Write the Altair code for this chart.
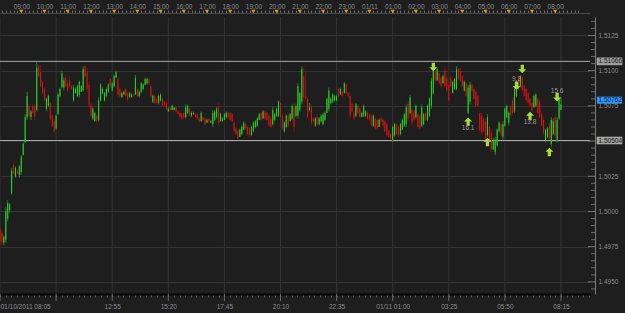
import json
import altair as alt
import pandas as pd

# ---------------- data (5-minute bars from 01/10/2011 08:05, prices in pips above 1.5000) -------------
open_pips = [
    -12, -15, -22, -20, -5, 1, 13, 33, 25, 29,
    26, 28, 40, 49, 67, 75, 67, 75, 74, 72,
    103, 99, 92, 87, 73, 75, 77, 68, 64, 59,
    69, 82, 88, 88, 95, 91, 93, 89, 79, 84,
    82, 83, 85, 86, 103, 99, 90, 76, 66, 64,
    68, 65, 79, 84, 79, 82, 85, 94, 86, 89,
    95, 94, 87, 81, 83, 87, 84, 81, 81, 83,
    83, 87, 82, 85, 87, 90, 91, 94, 89, 78,
    82, 80, 77, 79, 80, 78, 77, 71, 74, 72,
    72, 74, 71, 70, 69, 70, 67, 70, 73, 68,
    69, 69, 69, 66, 64, 67, 66, 63, 66, 63,
    62, 65, 67, 74, 64, 64, 65, 67, 70, 70,
    69, 63, 59, 57, 53, 55, 58, 62, 60, 59,
    54, 57, 60, 61, 65, 70, 66, 71, 70, 68,
    66, 62, 65, 68, 68, 77, 68, 57, 60, 68,
    64, 66, 74, 68, 68, 72, 78, 96, 82, 80,
    72, 74, 66, 61, 67, 62, 64, 62, 65, 70,
    73, 77, 78, 79, 79, 87, 83, 85, 84, 90,
    84, 82, 76, 70, 68, 75, 73, 67, 68, 68,
    70, 69, 68, 61, 66, 65, 60, 66, 65, 64,
    62, 57, 55, 51, 54, 62, 60, 55, 58, 61,
    62, 76, 70, 72, 71, 67, 69, 68, 61, 62,
    70, 65, 68, 75, 84, 99, 93, 98, 95, 91,
    100, 95, 90, 95, 84, 87, 87, 101, 100, 96,
    86, 91, 70, 78, 90, 87, 85, 82, 70, 68,
    66, 64, 54, 60, 56, 44, 42, 47, 57, 62,
    53, 61, 67, 63, 75, 79, 71, 82, 95, 89,
    95, 89, 87, 84, 80, 77, 74, 75, 80, 78,
    69, 65, 50, 53, 61, 48, 55, 67, 51, 66,
    72,
]
high_pips = [
    -10, -13, -17, 3, 8, 6, 31, 35, 32, 30,
    33, 40, 49, 69, 85, 76, 72, 76, 76, 106,
    104, 104, 93, 88, 81, 83, 78, 69, 66, 69,
    84, 88, 100, 95, 97, 93, 96, 90, 90, 88,
    90, 93, 90, 103, 104, 102, 92, 77, 74, 71,
    69, 81, 91, 88, 85, 88, 91, 95, 92, 97,
    100, 95, 88, 85, 86, 88, 85, 85, 84, 83,
    97, 88, 86, 92, 91, 95, 95, 95, 90, 83,
    83, 81, 83, 84, 81, 79, 78, 74, 74, 76,
    74, 74, 72, 71, 70, 71, 76, 76, 74, 71,
    71, 70, 70, 67, 71, 67, 66, 66, 66, 65,
    72, 72, 74, 77, 70, 67, 70, 71, 71, 71,
    70, 64, 60, 58, 59, 61, 64, 63, 61, 60,
    61, 64, 65, 67, 70, 71, 72, 72, 71, 69,
    67, 74, 70, 74, 79, 78, 70, 64, 69, 69,
    70, 76, 77, 76, 91, 85, 103, 102, 100, 81,
    77, 76, 67, 67, 69, 67, 69, 70, 71, 81,
    88, 81, 84, 83, 83, 88, 88, 86, 92, 91,
    85, 84, 77, 71, 77, 76, 74, 71, 76, 72,
    71, 70, 69, 69, 67, 66, 66, 67, 66, 65,
    63, 58, 56, 61, 63, 63, 61, 63, 66, 70,
    76, 78, 83, 73, 72, 76, 70, 69, 76, 70,
    71, 76, 81, 95, 102, 100, 102, 99, 96, 97,
    103, 97, 92, 97, 93, 95, 103, 102, 102, 97,
    93, 92, 90, 92, 91, 88, 86, 83, 71, 70,
    67, 66, 69, 61, 58, 52, 53, 59, 64, 63,
    64, 74, 76, 71, 76, 81, 88, 93, 96, 97,
    96, 90, 88, 85, 81, 78, 83, 84, 81, 79,
    71, 67, 59, 60, 63, 67, 66, 69, 67, 81,
    81,
]
low_pips = [
    -24, -24, -24, -22, -7, -1, 12, 26, 24, 26,
    24, 26, 40, 49, 65, 66, 65, 69, 65, 71,
    95, 88, 83, 78, 71, 74, 65, 60, 56, 58,
    69, 81, 88, 86, 88, 85, 88, 86, 78, 84,
    81, 81, 85, 85, 95, 85, 74, 67, 65, 64,
    63, 64, 78, 83, 78, 81, 84, 88, 85, 88,
    95, 81, 81, 81, 83, 81, 78, 81, 81, 81,
    83, 81, 81, 84, 86, 90, 90, 90, 81, 77,
    76, 76, 76, 78, 74, 74, 72, 71, 71, 72,
    72, 70, 69, 66, 65, 66, 66, 69, 67, 67,
    69, 66, 65, 63, 64, 64, 61, 63, 63, 63,
    60, 64, 66, 61, 64, 64, 65, 66, 66, 64,
    63, 56, 54, 51, 53, 54, 58, 58, 54, 53,
    54, 56, 59, 60, 65, 64, 66, 65, 64, 60,
    59, 61, 64, 67, 67, 66, 58, 56, 59, 60,
    64, 65, 56, 67, 66, 71, 76, 79, 78, 66,
    71, 61, 63, 60, 61, 61, 63, 61, 64, 70,
    71, 76, 77, 78, 78, 81, 83, 81, 84, 83,
    81, 66, 70, 65, 67, 69, 66, 67, 67, 67,
    65, 64, 60, 60, 58, 58, 60, 63, 60, 56,
    53, 52, 51, 49, 53, 54, 53, 54, 58, 60,
    60, 64, 69, 61, 64, 66, 59, 58, 60, 61,
    64, 64, 67, 73, 83, 92, 93, 90, 88, 91,
    88, 85, 77, 88, 84, 86, 86, 93, 92, 88,
    85, 81, 69, 76, 85, 79, 74, 74, 56, 54,
    56, 51, 53, 49, 42, 44, 40, 46, 56, 53,
    51, 60, 66, 61, 67, 69, 70, 81, 86, 88,
    85, 81, 78, 76, 74, 71, 74, 74, 69, 66,
    60, 54, 49, 52, 51, 46, 54, 52, 49, 65,
    72,
]
close_pips = [
    -21, -22, -18, 0, 6, 5, 29, 27, 31, 27,
    32, 39, 48, 67, 82, 68, 71, 70, 67, 102,
    96, 89, 84, 79, 80, 82, 66, 61, 57, 68,
    83, 87, 98, 93, 89, 86, 89, 87, 88, 87,
    89, 92, 89, 101, 96, 87, 76, 68, 73, 70,
    64, 79, 90, 87, 84, 87, 90, 89, 91, 96,
    99, 83, 82, 84, 85, 82, 79, 84, 83, 82,
    95, 82, 85, 91, 90, 94, 94, 91, 82, 82,
    77, 77, 82, 83, 75, 75, 73, 73, 72, 75,
    74, 71, 69, 67, 66, 67, 74, 75, 68, 70,
    70, 67, 66, 64, 70, 65, 62, 65, 64, 64,
    70, 71, 73, 63, 69, 66, 69, 70, 67, 65,
    64, 57, 55, 52, 58, 60, 63, 59, 55, 54,
    60, 63, 64, 66, 69, 65, 71, 66, 65, 61,
    60, 72, 69, 73, 78, 67, 59, 63, 68, 61,
    69, 75, 60, 75, 89, 84, 101, 81, 80, 67,
    74, 63, 64, 66, 62, 66, 68, 69, 70, 80,
    86, 80, 83, 82, 82, 82, 87, 82, 91, 84,
    82, 68, 71, 66, 76, 70, 67, 70, 75, 71,
    66, 65, 61, 68, 59, 59, 65, 64, 61, 57,
    54, 53, 52, 60, 62, 55, 54, 62, 65, 69,
    74, 66, 81, 63, 65, 75, 60, 59, 74, 69,
    65, 75, 80, 93, 100, 93, 101, 91, 89, 96,
    89, 86, 79, 89, 92, 94, 101, 94, 93, 89,
    92, 82, 88, 90, 86, 80, 75, 75, 58, 56,
    57, 52, 67, 50, 44, 51, 51, 58, 63, 54,
    62, 73, 75, 70, 68, 70, 87, 92, 87, 96,
    86, 82, 79, 77, 75, 72, 82, 83, 70, 67,
    61, 56, 58, 59, 52, 65, 64, 54, 65, 80,
    76,
]

level_prices = [1.51066, 1.50504]
last_price = 1.50762

# signal arrows: minute offset from 08:05, pips above 1.5000, direction, label
signal_minutes = [1120, 1210, 1260, 1335, 1350, 1370, 1440, 1420]
signal_pips = [102.6, 63.8, 49.4, 89.3, 101.2, 67.8, 81.1, 42.2]
signal_dir = ["down", "up", "up", "down", "down", "up", "down", "up"]
signal_label = ["", "16.1", "", "9.3", "", "13.8", "15.6", ""]

hour_minutes = [55 + 60 * k for k in range(24)]
hour_labels = ["09:00", "10:00", "11:00", "12:00", "13:00", "14:00", "15:00", "16:00",
               "17:00", "18:00", "19:00", "20:00", "21:00", "22:00", "23:00", "01/11",
               "01:00", "02:00", "03:00", "04:00", "05:00", "06:00", "07:00", "08:00"]

bottom_label_minutes = [0, 290, 435, 580, 725, 870, 1015, 1160, 1305, 1450]
bottom_labels = ["01/10/2011 08:05", "12:55", "15:20", "17:45", "20:10", "22:35",
                 "01/11 01:00", "03:25", "05:50", "08:15"]
grid_minutes = [145 * k for k in range(11)]

price_ticks = [1.4950, 1.4975, 1.5000, 1.5025, 1.5050, 1.5075, 1.5100, 1.5125]
price_labels = ["1.4950", "1.4975", "1.5000", "1.5025", "", "1.5075", "1.5100", "1.5125"]
tick_prices = [round(1.4945 + 0.0005 * k, 4) for k in range(39)]

# ---------------- tables ----------------
BASE = 1.5
n = len(close_pips)
bars = pd.DataFrame({
    "minute": [5 * i for i in range(n)],
    "open": [round(BASE + p / 10000, 5) for p in open_pips],
    "high": [round(BASE + p / 10000, 5) for p in high_pips],
    "low": [round(BASE + p / 10000, 5) for p in low_pips],
    "close": [round(BASE + p / 10000, 5) for p in close_pips],
})
signals = pd.DataFrame({
    "minute": signal_minutes,
    "price": [round(BASE + p / 10000, 5) for p in signal_pips],
    "dir": signal_dir,
    "label": signal_label,
})
levels = pd.DataFrame({"price": level_prices, "text": [f"{p:.5f}" for p in level_prices]})
last = pd.DataFrame({"price": [last_price], "text": [f"{last_price:.5f}"]})
grid = pd.DataFrame({"minute": grid_minutes})
hours = pd.DataFrame({"minute": hour_minutes})
ticks = pd.DataFrame({"price": tick_prices,
                      "major": [round(p * 10000) % 25 == 0 for p in tick_prices]})

# ---------------- style ----------------
FONT = "Liberation Sans"
TXT = "#8c8c8c"
BG = "#1e1e1e"
GRID = "#333333"
W, H = 590, 277

x_scale = alt.Scale(domain=[0, 1525], nice=False, zero=False)
y_scale = alt.Scale(domain=[1.49414, 1.51381], nice=False, zero=False)

BM = json.dumps(bottom_label_minutes)
BL = json.dumps(bottom_labels)
HM = json.dumps(hour_minutes)
HL = json.dumps(hour_labels)
PT = json.dumps([round(p * 10000) for p in price_ticks])
PL = json.dumps(price_labels)

bottom_axis = alt.Axis(
    orient="bottom", values=[k * 14.5 for k in range(106)],
    labelExpr=f"indexof({BM}, datum.value) >= 0 ? {BL}[indexof({BM}, datum.value)] : ''",
    labelFlush=True, labelOverlap=False, labelColor=TXT, labelFont=FONT, labelFontSize=6.5,
    labelPadding=6, tickSize=3, tickColor="#5e5e5e", domainColor="#050505", domainWidth=2,
    grid=False, title=None)

top_axis = alt.Axis(
    orient="top", values=[5 + 10 * k for k in range(150)],
    labelExpr=f"indexof({HM}, datum.value) >= 0 ? {HL}[indexof({HM}, datum.value)] : ''",
    labelOverlap=False, labelColor=TXT, labelFont=FONT, labelFontSize=6.5, labelPadding=1,
    tickSize=3, tickColor="#6a6a6a", domainColor="#474747", offset=4, grid=False, title=None)

right_axis = alt.Axis(
    orient="right", values=price_ticks,
    labelExpr=f"{PL}[indexof({PT}, round(datum.value * 10000))]",
    offset=5, ticks=False,
    domainColor="#7a7a7a", labelPadding=3, labelColor=TXT, labelFont=FONT,
    labelFontSize=6.5, labelOverlap=False, grid=True, gridColor=GRID, title=None)

up_cond = "datum.close >= datum.open"

vgrid = alt.Chart(grid).mark_rule(color=GRID, strokeWidth=1).encode(
    x=alt.X("minute:Q", scale=x_scale, axis=None))

major_xticks = alt.Chart(grid).mark_rule(color="#6a6a6a", strokeWidth=1).encode(
    x=alt.X("minute:Q", scale=x_scale, axis=None), y=alt.value(H), y2=alt.value(H + 7))

level_lines = alt.Chart(levels).mark_rule(color="#a8a8a8", strokeWidth=1).encode(
    y=alt.Y("price:Q", scale=y_scale, axis=None))

wicks = alt.Chart(bars).mark_rule(strokeWidth=1).encode(
    x=alt.X("minute:Q", scale=x_scale, axis=bottom_axis),
    y=alt.Y("low:Q", scale=y_scale, axis=right_axis),
    y2="high:Q",
    color=alt.condition(up_cond, alt.value("#1f8a1f"), alt.value("#861010")),
)
bodies = alt.Chart(bars).mark_rule(strokeWidth=1).encode(
    x=alt.X("minute:Q", scale=x_scale, axis=None),
    y=alt.Y("open:Q", scale=y_scale, axis=None),
    y2="close:Q",
    color=alt.condition(up_cond, alt.value("#2fd22f"), alt.value("#d81818")),
)

minor_yticks = alt.Chart(ticks).transform_filter("!datum.major").mark_rule(
    color="#6a6a6a", strokeWidth=1).encode(
    y=alt.Y("price:Q", scale=y_scale, axis=None), x=alt.value(W + 1), x2=alt.value(W + 5))
major_yticks = alt.Chart(ticks).transform_filter("datum.major").mark_rule(
    color="#7a7a7a", strokeWidth=1).encode(
    y=alt.Y("price:Q", scale=y_scale, axis=None), x=alt.value(W - 2), x2=alt.value(W + 5))

level_tags = alt.Chart(levels).mark_rect(height=7, color="#9c9c9c", stroke="#c8c8c8",
                                         strokeWidth=0.5).encode(
    y=alt.Y("price:Q", scale=y_scale, axis=None), x=alt.value(W + 7), x2=alt.value(W + 32))
level_text = alt.Chart(levels).mark_text(align="left", baseline="middle", font=FONT,
                                         fontSize=6.5, color="#1a1a1a").encode(
    y=alt.Y("price:Q", scale=y_scale, axis=None), x=alt.value(W + 8.5), text="text:N")

last_tag = alt.Chart(last).mark_rect(height=7, color="#2f95ff", yOffset=-4).encode(
    y=alt.Y("price:Q", scale=y_scale, axis=None), x=alt.value(W + 7), x2=alt.value(W + 32))
last_text = alt.Chart(last).mark_text(align="left", baseline="middle", font=FONT,
                                      fontSize=6.5, color="#0c2340", dy=-4).encode(
    y=alt.Y("price:Q", scale=y_scale, axis=None), x=alt.value(W + 8.5), text="text:N")

UP_PATH = "M0,-1L0.95,-0.05L0.38,-0.05L0.38,1L-0.38,1L-0.38,-0.05L-0.95,-0.05Z"
DOWN_PATH = "M0,1L0.95,0.05L0.38,0.05L0.38,-1L-0.38,-1L-0.38,0.05L-0.95,0.05Z"

up_arrows = alt.Chart(signals).transform_filter("datum.dir == 'up'").mark_point(
    shape=UP_PATH, filled=True, color="#a6dc36", size=72, opacity=1).encode(
    x=alt.X("minute:Q", scale=x_scale, axis=None), y=alt.Y("price:Q", scale=y_scale, axis=None))
down_arrows = alt.Chart(signals).transform_filter("datum.dir == 'down'").mark_point(
    shape=DOWN_PATH, filled=True, color="#a6dc36", size=72, opacity=1).encode(
    x=alt.X("minute:Q", scale=x_scale, axis=None), y=alt.Y("price:Q", scale=y_scale, axis=None))

up_labels = alt.Chart(signals).transform_filter(
    "datum.dir == 'up' && datum.label != ''").mark_text(
    baseline="middle", font=FONT, fontSize=6.5, color="#9a9a9a", dy=6.5).encode(
    x=alt.X("minute:Q", scale=x_scale, axis=None), y=alt.Y("price:Q", scale=y_scale, axis=None),
    text="label:N")
down_labels = alt.Chart(signals).transform_filter(
    "datum.dir == 'down' && datum.label != ''").mark_text(
    baseline="middle", font=FONT, fontSize=6.5, color="#9a9a9a", dy=-6.5).encode(
    x=alt.X("minute:Q", scale=x_scale, axis=None), y=alt.Y("price:Q", scale=y_scale, axis=None),
    text="label:N")

hour_marks = alt.Chart(hours).mark_point(shape="triangle-down", filled=True, color="#d6a21c",
                                         size=18, opacity=1).encode(
    x=alt.X("minute:Q", scale=x_scale, axis=top_axis), y=alt.value(-5.5))

chart = alt.layer(
    vgrid, major_xticks, level_lines, wicks, bodies, minor_yticks, major_yticks,
    level_tags, level_text, last_tag, last_text,
    up_arrows, down_arrows, up_labels, down_labels, hour_marks,
).resolve_axis(x="independent", y="independent").properties(
    width=W, height=H,
    padding={"left": 0, "top": 17, "right": 35, "bottom": 19},
    autosize=alt.AutoSizeParams(type="none"),
    background=BG,
).configure_view(stroke=None, fill=BG)

chart.save("out.html", embed_options={"renderer": "svg", "actions": False})
